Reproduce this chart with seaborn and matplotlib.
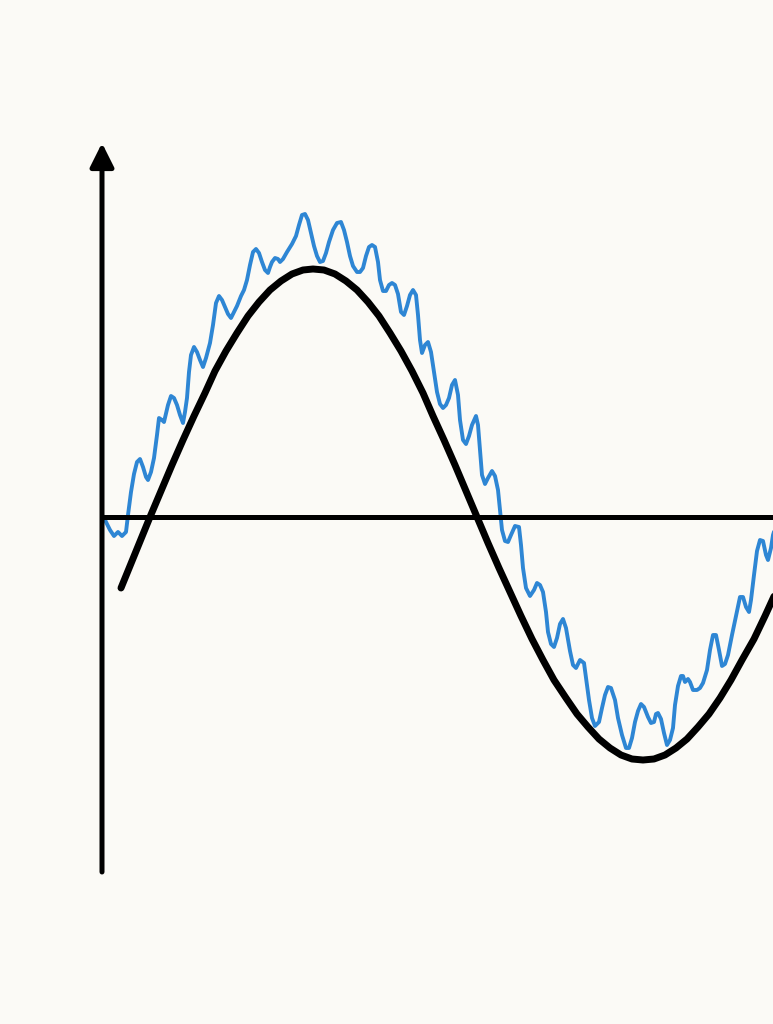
import matplotlib
matplotlib.use("Agg")
import matplotlib.pyplot as plt
import seaborn as sns
import pandas as pd

# smooth wave (black): t along the horizontal axis, v above it
wave_t = [18, 47, 58, 69, 80, 91, 102, 112, 123, 134, 145, 156, 167, 178, 189, 200,
          210, 221, 232, 243, 254, 265, 276, 287, 298, 309, 320, 330, 341, 352, 363,
          374, 385, 396, 407, 418, 429, 440, 451, 463, 474, 485, 496, 507, 518, 529,
          540, 551, 562, 573, 584, 595, 606, 617, 628, 639, 651, 662, 673, 684]
wave_v = [-71, 0, 26, 52, 77, 101, 124, 146, 166, 184, 201, 215, 227, 236, 243, 247,
          248, 247, 243, 236, 227, 215, 201, 184, 166, 146, 124, 101, 77, 52, 26,
          0, -26, -51, -75, -99, -122, -143, -163, -181, -197, -210, -222, -231, -238, -242,
          -243, -242, -238, -231, -222, -210, -197, -181, -163, -143, -122, -99, -75, -51]

# noisy signal (blue)
sig_t = [2, 7, 11, 15, 19, 23, 25, 28, 31, 34, 37, 40, 43, 45, 48, 51, 54, 56, 59, 61,
         65, 68, 71, 74, 77, 80, 82, 84, 86, 88, 91, 94, 97, 100, 103, 107, 110, 113, 116, 119,
         122, 125, 128, 131, 134, 138, 141, 144, 147, 150, 153, 156, 159, 162, 165, 167, 169, 172, 175, 177,
         180, 184, 189, 193, 196, 199, 202, 205, 208, 211, 214, 217, 220, 223, 226, 230, 234, 238, 241, 244,
         247, 250, 254, 257, 260, 263, 266, 269, 272, 275, 277, 280, 283, 286, 289, 292, 295, 298, 301, 304,
         307, 310, 313, 315, 317, 319, 322, 325, 328, 331, 334, 337, 340, 343, 346, 349, 352, 355, 357, 360,
         363, 366, 369, 373, 375, 377, 379, 382, 385, 389, 392, 395, 397, 399, 402, 405, 408, 412, 416, 418,
         420, 423, 427, 431, 434, 437, 440, 443, 445, 448, 451, 454, 457, 460, 463, 467, 470, 473, 477, 481,
         483, 486, 489, 492, 496, 499, 502, 505, 508, 512, 515, 519, 523, 526, 529, 532, 535, 538, 541, 545,
         548, 551, 553, 555, 558, 561, 564, 567, 570, 572, 575, 578, 580, 582, 585, 587, 590, 594, 597, 600,
         604, 607, 610, 613, 616, 619, 622, 625, 629, 633, 637, 640, 643, 646, 648, 651, 654, 657, 660, 663,
         665, 668, 670, 674]
sig_v = [-3, -13, -19, -15, -19, -15, 2, 25, 43, 55, 58, 50, 40, 37, 45, 59, 82, 99, 97, 95,
         112, 121, 119, 112, 102, 94, 105, 119, 145, 162, 170, 165, 157, 150, 159, 174, 192, 214, 221, 217,
         210, 203, 199, 205, 211, 221, 227, 237, 252, 265, 268, 264, 255, 247, 244, 250, 255, 259, 258, 255,
         258, 265, 273, 281, 292, 302, 303, 297, 284, 271, 261, 255, 256, 264, 275, 287, 294, 295, 287, 275,
         261, 251, 245, 245, 249, 261, 270, 272, 270, 255, 237, 226, 226, 232, 234, 232, 223, 205, 202, 211,
         222, 227, 222, 202, 177, 164, 172, 175, 165, 145, 125, 113, 109, 112, 119, 132, 137, 122, 97, 77,
         73, 81, 92, 101, 92, 67, 42, 33, 39, 46, 41, 27, 7, -13, -24, -25, -18, -9, -10, -28,
         -51, -71, -79, -73, -66, -68, -75, -95, -115, -127, -130, -121, -107, -102, -111, -134, -148, -151, -143, -146,
         -161, -183, -201, -209, -205, -191, -178, -170, -171, -183, -201, -218, -231, -231, -221, -205, -194, -187, -190, -200,
         -206, -205, -197, -196, -202, -216, -228, -223, -211, -188, -169, -159, -159, -165, -162, -165, -173, -173, -171, -166,
         -153, -133, -118, -118, -133, -149, -147, -138, -118, -99, -80, -80, -90, -95, -83, -58, -34, -23, -24, -38,
         -43, -31, -18, -5]

wave = pd.DataFrame({"t": wave_t, "v": wave_v})
sig = pd.DataFrame({"t": sig_t, "v": sig_v})

sns.set_theme(style="white")
bg = "#fbfaf6"
fig = plt.figure(figsize=(7.73, 10.24), dpi=100, facecolor=bg)
ax = fig.add_axes([0, 0, 1, 1])
ax.set_facecolor(bg)

sns.lineplot(data=sig, x="t", y="v", ax=ax, color="#2e86d4", linewidth=2.8,
             estimator=None, sort=False, zorder=2)
ax.lines[-1].set_solid_joinstyle("round")
ax.lines[-1].set_solid_capstyle("round")
sns.lineplot(data=wave, x="t", y="v", ax=ax, color="black", linewidth=5.0,
             estimator=None, sort=False, zorder=4)
ax.lines[-1].set_solid_capstyle("round")
ax.lines[-1].set_solid_joinstyle("round")

# axes drawn as lines, vertical one with an arrow head
ax.plot([-1, 670], [0, 0], color="black", linewidth=3.6, zorder=3, solid_capstyle="butt")
ax.annotate("", xy=(-1, 374), xytext=(-1, -355),
            arrowprops=dict(arrowstyle="-|>", color="black", lw=3.6,
                            mutation_scale=36, shrinkA=0, shrinkB=0), zorder=3)

ax.set_xlim(-103, 670)
ax.set_ylim(-507, 517)
ax.axis("off")
fig.savefig("out.png", dpi=100, facecolor=bg)
